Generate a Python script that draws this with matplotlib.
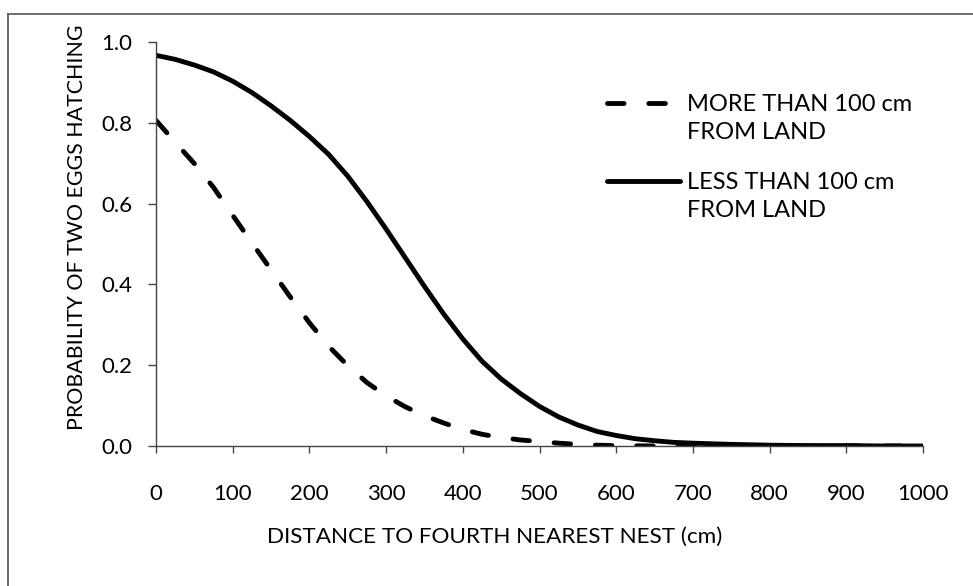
import matplotlib
matplotlib.use("Agg")
import matplotlib.pyplot as plt
from matplotlib.lines import Line2D

plt.rcParams['font.family'] = ['Lato', 'DejaVu Sans']

# Data
distance = [0, 25, 50, 75, 100, 125, 150, 175, 200, 225, 250, 275, 300, 325, 350, 375,
            400, 425, 450, 475, 500, 525, 550, 575, 600, 625, 650, 675, 700, 750, 800,
            850, 900, 950, 1000]
prob_more_than_100 = [0.806, 0.752, 0.699, 0.640, 0.571, 0.503, 0.436, 0.369, 0.305, 0.247,
                      0.199, 0.157, 0.124, 0.097, 0.075, 0.057, 0.041, 0.029, 0.021, 0.015,
                      0.011, 0.007, 0.004, 0.002, 0.001, 0.0005, 0.0, 0.0, 0.0, 0.0, 0.0,
                      0.0, 0.0, 0.0, 0.0]
prob_less_than_100 = [0.967, 0.957, 0.943, 0.926, 0.903, 0.875, 0.842, 0.806, 0.766, 0.722,
                      0.668, 0.605, 0.537, 0.466, 0.395, 0.327, 0.265, 0.210, 0.166, 0.130,
                      0.098, 0.072, 0.052, 0.036, 0.026, 0.018, 0.013, 0.009, 0.007, 0.004,
                      0.002, 0.001, 0.001, 0.0, 0.0]
label_more = ["MORE THAN 100 cm", "FROM LAND"]
label_less = ["LESS THAN 100 cm", "FROM LAND"]
xticks = [0, 100, 200, 300, 400, 500, 600, 700, 800, 900, 1000]
yticks = [0.0, 0.2, 0.4, 0.6, 0.8, 1.0]
xlabel = "DISTANCE TO FOURTH NEAREST NEST (cm)"
ylabel = "PROBABILITY OF TWO EGGS HATCHING"

W, H = 973, 586
fig = plt.figure(figsize=(W / 100, H / 100), dpi=100)
ax = fig.add_axes([156 / W, (H - 446) / H, (923 - 156) / W, (446 - 42) / H])

lw = 3.5
dash_style = (0, (3.4, 5.1))
ax.plot(distance, prob_more_than_100, color='black', lw=lw,
        linestyle=dash_style, dash_capstyle='round')
ax.plot(distance, prob_less_than_100, color='black', lw=lw,
        solid_capstyle='round', solid_joinstyle='round')

ax.set_xlim(0, 1000)
ax.set_ylim(0, 1.0)
ax.set_xticks(xticks)
ax.set_xticklabels([str(v) for v in xticks])
ax.set_yticks(yticks)
ax.set_yticklabels([f"{v:.1f}" for v in yticks])

for s in ['top', 'right']:
    ax.spines[s].set_visible(False)
for s in ['left', 'bottom']:
    ax.spines[s].set_color('#444444')
    ax.spines[s].set_linewidth(1.0)

ax.tick_params(axis='x', direction='out', length=5, width=1, color='#444444',
               pad=22, labelsize=16)
ax.tick_params(axis='y', direction='out', length=6, width=1, color='#444444',
               pad=11, labelsize=16)

ax.set_xlabel(xlabel, fontsize=16.2, labelpad=17)
ax.xaxis.set_label_coords((495 - 156) / 767, -(537 - 446) / 404, transform=ax.transAxes)
ax.xaxis.label.set_verticalalignment('center')
ax.set_ylabel(ylabel, fontsize=15.4, labelpad=10)
ax.yaxis.label.set_y((446 - 227) / 404)

blank = Line2D([], [], color='none')
leg_kw = dict(frameon=False, fontsize=17, handlelength=3.1, handletextpad=0.3,
              labelspacing=0.3, borderpad=0, borderaxespad=0, loc='upper left')
hd = Line2D([], [], color='black', lw=lw, linestyle=dash_style, dash_capstyle='round')
leg1 = ax.legend([hd, blank], label_more, bbox_to_anchor=(607 / W, (H - 94) / H),
                 bbox_transform=fig.transFigure, **leg_kw)
ax.add_artist(leg1)
hs = Line2D([], [], color='black', lw=lw, solid_capstyle='round')
ax.legend([hs, blank], label_less, bbox_to_anchor=(607 / W, (H - 172) / H),
          bbox_transform=fig.transFigure, **leg_kw)

# scanned frame (top and left edges)
fig.add_artist(Line2D([8 / W, 1], [(H - 14) / H, (H - 14) / H], color='#555555', lw=1.2,
                      transform=fig.transFigure))
fig.add_artist(Line2D([8 / W, 8 / W], [0, (H - 14) / H], color='#555555', lw=1.2,
                      transform=fig.transFigure))

fig.savefig("out.png", dpi=100)
